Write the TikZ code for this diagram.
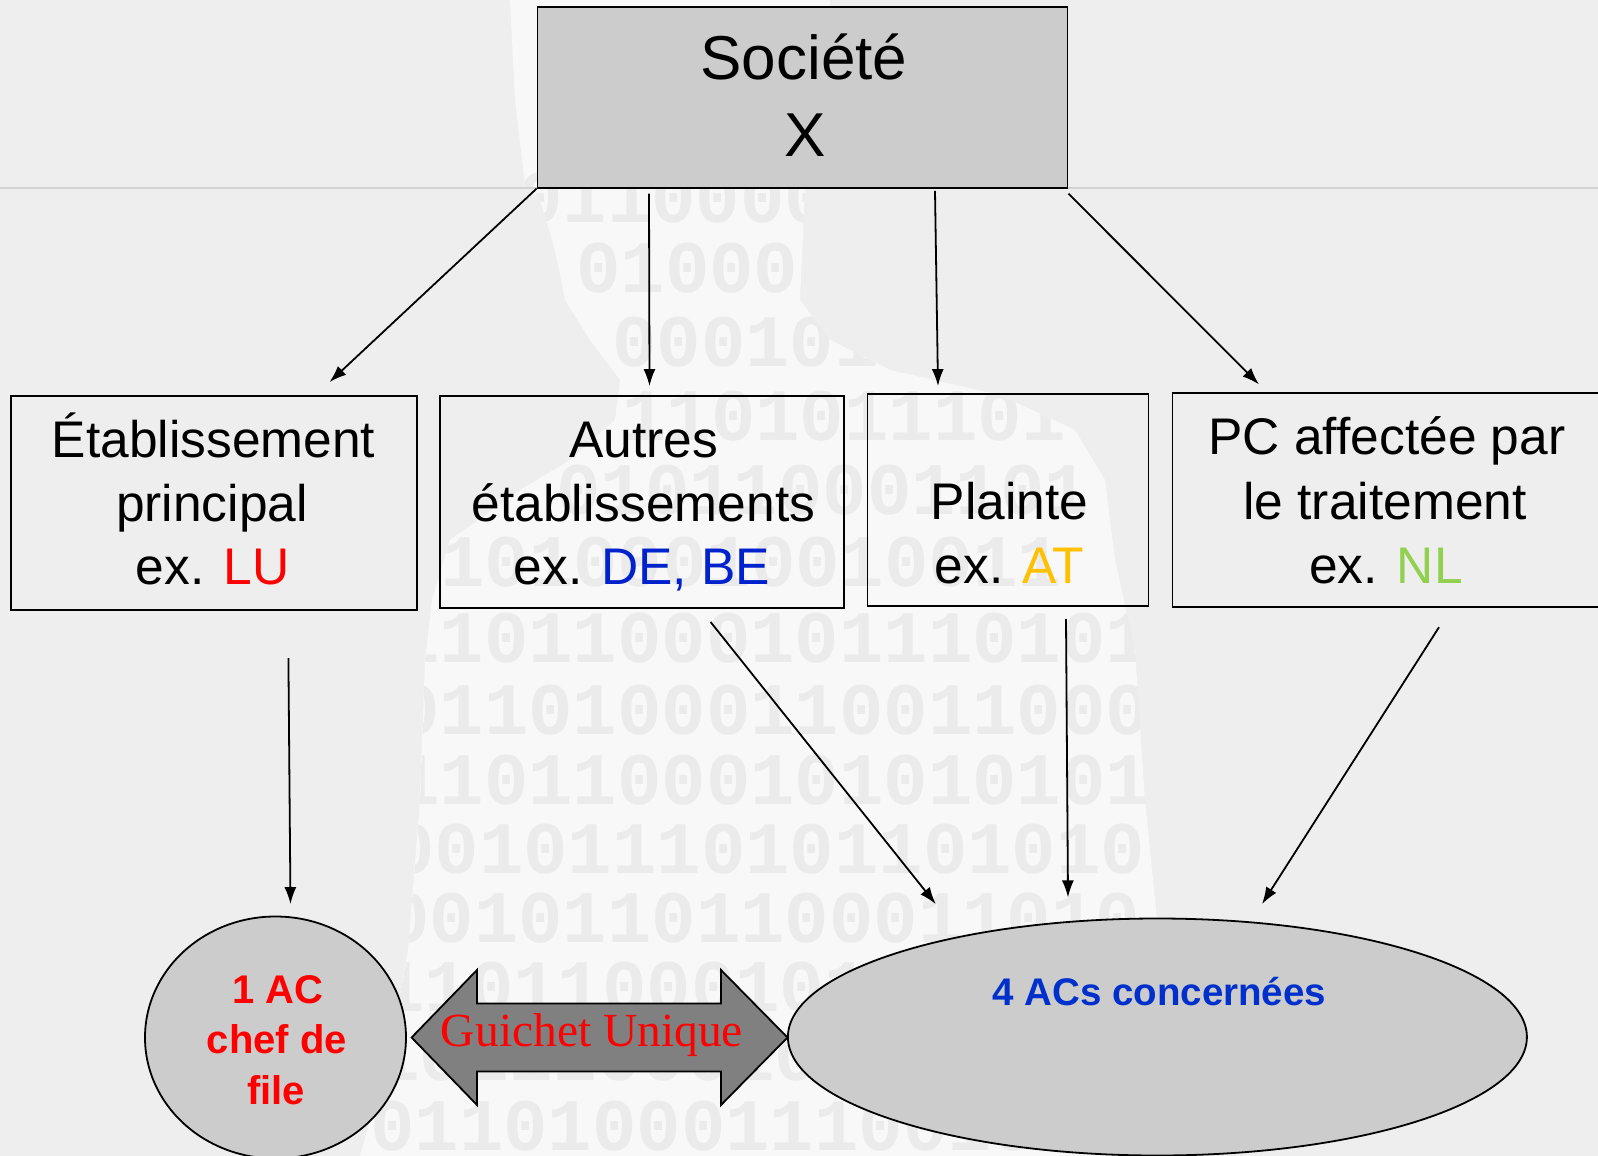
\documentclass[tikz,border=0pt]{standalone}
\usepackage{fontspec}
\setmainfont{Liberation Sans}
\newfontfamily\seriffont{Liberation Serif}
\newfontfamily\wmfont{Liberation Mono}
\usetikzlibrary{shapes.geometric,arrows.meta,calc}
\definecolor{bgc}{HTML}{EEEEEE}
\definecolor{silc}{HTML}{F8F8F8}
\definecolor{digc}{HTML}{EBEBEB}
\definecolor{linec}{HTML}{D2D2D2}
\definecolor{boxfill}{HTML}{CCCCCC}
\definecolor{arrowfill}{HTML}{808080}
\definecolor{lured}{HTML}{FF0000}
\definecolor{deblue}{HTML}{0022CC}
\definecolor{acblue}{HTML}{0030CC}
\definecolor{atc}{HTML}{FFC000}
\definecolor{nlc}{HTML}{92D050}
\tikzset{
  boxst/.style={draw=black, line width=1.8pt, rectangle, inner sep=0pt},
  ovalst/.style={ellipse, draw=black, line width=1.8pt, fill=boxfill, inner sep=0pt},
  arr/.style={draw=black, line width=1.8pt, -{Latex[length=17pt,width=12pt]}},
  txt/.style={anchor=base, inner sep=0pt, font=\fontsize{51.5}{60}\selectfont},
  bigtxt/.style={anchor=base, inner sep=0pt, font=\fontsize{62}{70}\selectfont},
  boldtxt/.style={anchor=base, inner sep=0pt, font=\bfseries\fontsize{40}{48}\selectfont},
  wm/.style={anchor=base west, inner sep=0pt, text=digc, font=\wmfont\bfseries\fontsize{74}{74}\selectfont},
}
\begin{document}
\begin{tikzpicture}[x=1pt,y=-1pt]
\useasboundingbox (0,0) rectangle (1598,1156);
\fill[bgc] (0,0) rectangle (1598,1156);
% watermark silhouette
\begin{scope}
\clip (510,0) -- (830,0) -- (830,150) -- (805,190) -- (800,300) -- (830,340) -- (890,370)
  -- (1000,395) -- (1075,430) -- (1105,480) -- (1115,560) -- (1135,650) -- (1145,800)
  -- (1160,950) -- (1170,1156) -- (360,1156) -- (390,1050) -- (408,950) -- (420,800)
  -- (425,660) -- (432,600) -- (450,540) -- (520,490) -- (570,460) -- (615,420)
  -- (620,380) -- (590,340) -- (565,300) -- (555,250) -- (540,200) -- (525,185)
  -- (515,100) -- cycle;
\fill[silc] (0,0) rectangle (1598,1156);
\foreach \yy/\xx/\ss [count=\i] in {
  222/518/0110000, 292/576/0100001, 366/612/0001011, 440/622/1101011101,
  514/556/010110001101, 586/440/10100010010011, 662/395/11011000101110101,
  734/395/01101000110011000, 804/395/11011000101010101, 873/390/00101110101101010,
  942/385/00101101100011010, 1011/380/11011000101000101, 1080/375/10111000101100101,
  1150/370/01101000111001000}
  \node[wm] (wm\i) at (\xx,\yy) {\ss};
\end{scope}
\draw[linec, line width=2pt] (0,188) -- (1598,188);
% boxes
\node[boxst, fill=boxfill, minimum width=530pt, minimum height=181pt] (soc) at (802.5,97.2) {};
\node[boxst, minimum width=406pt, minimum height=214pt] (b1) at (214,503) {};
\node[boxst, minimum width=404pt, minimum height=212pt] (b2) at (642,502) {};
\node[boxst, minimum width=281pt, minimum height=212pt] (b3) at (1008,500) {};
\node[boxst, minimum width=427.5pt, minimum height=214pt] (b4) at (1386.3,500.3) {};
% texts
\node[bigtxt] (s1) at (804,79.3) {Société};
\node[bigtxt] (s2) at (805,156) {X};
\node[txt] (t11) at (213.5,457.3) {Établissement};
\node[txt] (t12) at (212,521.7) {principal};
\node[txt] (t13) at (212.5,584) {ex. \textcolor{lured}{LU}};
\node[txt] (t21) at (643.7,457.3) {Autres};
\node[txt] (t22) at (643.4,521.7) {établissements};
\node[txt] (t23) at (642,584) {ex. \textcolor{deblue}{DE, BE}};
\node[txt] (t31) at (1009.6,519.3) {Plainte};
\node[txt] (t32) at (1009.5,583.3) {ex. \textcolor{atc}{AT}};
\node[txt] (t41) at (1387,454) {PC affectée par};
\node[txt] (t42) at (1385,519.3) {le traitement};
\node[txt] (t43) at (1386,583.3) {ex. \textcolor{nlc}{NL}};
% ovals
\node[ovalst, minimum width=261pt, minimum height=242pt] (ac1) at (275.5,1037.5) {};
\node[ovalst, minimum width=739pt, minimum height=237pt] (ac4) at (1157.4,1037) {};
\node[boldtxt, text=lured] (c1) at (278,1003.3) {1 AC};
\node[boldtxt, text=lured] (c2) at (277,1053.3) {chef de};
\node[boldtxt, text=lured] (c3) at (276,1104) {file};
\node[boldtxt, text=acblue, font=\bfseries\fontsize{38.5}{46}\selectfont] (c4) at (1159.3,1005) {4 ACs concernées};
% double arrow
\draw[line width=1.8pt, fill=arrowfill] (411.6,1037.5) -- (477,970) -- (477,1003.5) -- (721,1003.5)
  -- (721,970) -- (787.5,1037.5) -- (721,1105) -- (721,1071.5) -- (477,1071.5) -- (477,1105) -- cycle;
\node[anchor=base, inner sep=0pt, text=lured, font=\seriffont\fontsize{47.5}{50}\selectfont] (gu) at (592,1046.7) {Guichet Unique};
% connectors
\draw[arr] (soc.south west) -- ([xshift=115.5pt,yshift=13pt]b1.north);
\draw[arr] ([xshift=-153.5pt,yshift=-5pt]soc.south) -- ([xshift=7.5pt,yshift=9pt]b2.north);
\draw[arr] ([xshift=132.5pt,yshift=-2.3pt]soc.south) -- ([xshift=-70pt,yshift=7pt]b3.north);
\draw[arr] ([yshift=-5pt]soc.south east) -- ([xshift=-127.3pt,yshift=8pt]b4.north);
\draw[arr] ([xshift=74.4pt,yshift=-47.3pt]b1.south) -- ([xshift=15pt,yshift=11.5pt]ac1.north);
\draw[arr] ([xshift=68.5pt,yshift=-13pt]b2.south) -- ([xshift=-221.6pt,yshift=13.5pt]ac4.north);
\draw[arr] ([xshift=58pt,yshift=-12.3pt]b3.south) -- ([xshift=-89.4pt,yshift=20.2pt]ac4.north);
\draw[arr] ([xshift=52.7pt,yshift=-19pt]b4.south) -- ([xshift=104.6pt,yshift=13.5pt]ac4.north);
\end{tikzpicture}
\end{document}
